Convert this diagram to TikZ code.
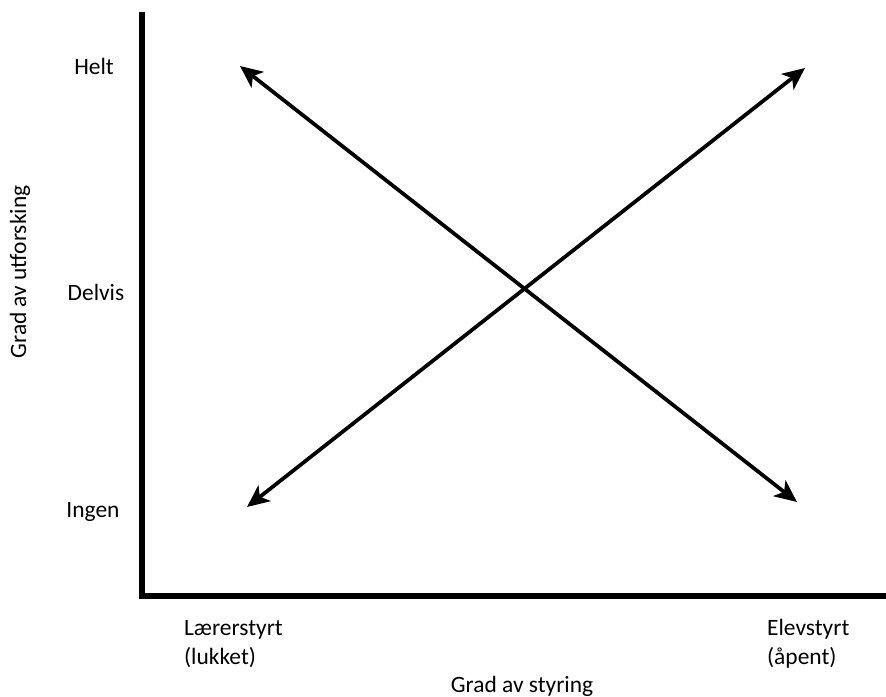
\documentclass[tikz,border=0pt]{standalone}
\usepackage{fontspec}
\setmainfont{Carlito}
\usetikzlibrary{arrows.meta, positioning}

\begin{document}
\begin{tikzpicture}[x=0.03cm, y=-0.03cm, >={Stealth[length=19pt,width=17pt,inset=5pt]}, font=\fontsize{20}{25}\selectfont]
        \useasboundingbox (0,0) rectangle (886,697);
        % axes
        \coordinate (top) at (142,12);
        \coordinate (orig) at (142,596);
        \coordinate (right) at (886,596);
        \draw[line width=4.5pt] (top) -- (orig) -- (right);
        % levels
        \node (helt)   at (94,66)  {Helt};
        \node (delvis) at (96,292) {Delvis};
        \node (ingen)  at (93,512) {Ingen};
        \node (yaxis)  at (20,272) [rotate=90] {Grad av utforsking};
        \node (laerer) at (180,644) [anchor=west, align=left] {Lærerstyrt\\(lukket)};
        \node (elev)   at (763,644) [anchor=west, align=left] {Elevstyrt\\(åpent)};
        \node (xaxis)  at (522,686) {Grad av styring};
        % arrows
        \coordinate (tl) at (240,66);
        \coordinate (br) at (797,502);
        \coordinate (bl) at (247,507);
        \coordinate (tr) at (805,68);
        \draw[<->, line width=3.2pt] (tl) -- (br);
        \draw[<->, line width=3.2pt] (bl) -- (tr);
      \end{tikzpicture}
\end{document}
